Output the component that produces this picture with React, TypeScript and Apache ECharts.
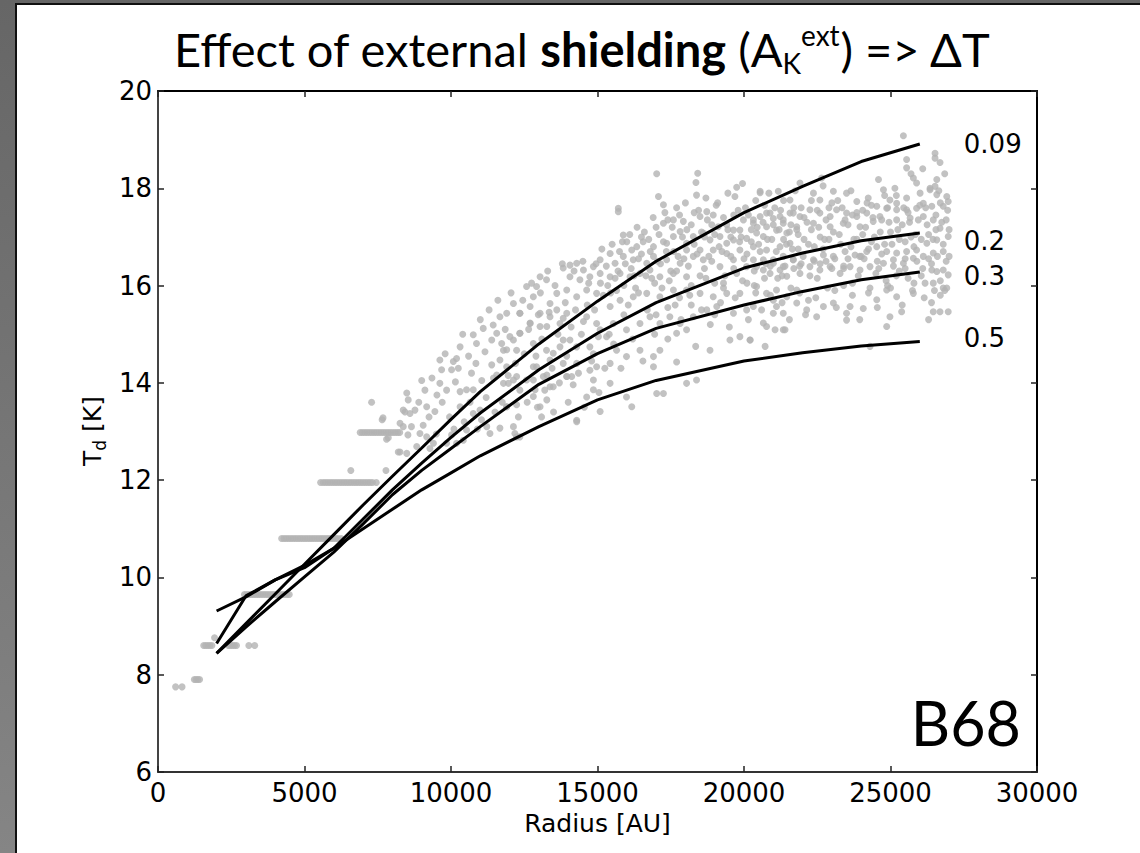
import React, { useEffect, useRef } from "react";
import * as echarts from "echarts";

// Model curves (radius nodes in AU, dust temperature in K)
const radiusNodes = [2000, 3000, 4000, 5000, 6000, 7000, 8000, 9000, 10000, 11000, 13000, 15000, 17000, 20000, 22000, 24000, 26000];
const td009 = [8.44, 9.05, 9.66, 10.27, 10.88, 11.49, 12.08, 12.66, 13.25, 13.82, 14.8, 15.68, 16.5, 17.5, 18.04, 18.55, 18.91];
const td02 = [8.64, 9.62, 9.95, 10.2, 10.6, 11.2, 11.8, 12.35, 12.88, 13.38, 14.27, 15.02, 15.65, 16.36, 16.67, 16.92, 17.08];
const td03 = [8.44, 8.98, 9.5, 10.01, 10.52, 11.1, 11.7, 12.2, 12.65, 13.1, 13.97, 14.6, 15.12, 15.6, 15.88, 16.12, 16.28];
const td05 = [9.31, 9.6, 9.95, 10.25, 10.6, 11.0, 11.4, 11.8, 12.15, 12.5, 13.1, 13.65, 14.05, 14.45, 14.62, 14.76, 14.85];
const curveNames = ["0.09", "0.2", "0.3", "0.5"];
const curveLabelShift = [0, 8, 4, -4];

// Observed pixels: quantised inner streaks
const streakPoints = [
  [600, 7.75], [820, 7.75],
  [1240, 7.9], [1300, 7.9], [1360, 7.9], [1420, 7.9],
  [1560, 8.6], [1630, 8.6], [1700, 8.6], [1770, 8.6], [1840, 8.6], [1930, 8.76], [2400, 8.6], [2470, 8.6], [2540, 8.6], [2610, 8.6], [2680, 8.6], [3100, 8.6], [3300, 8.6],
  [2950, 9.65], [3030, 9.65], [3110, 9.65], [3190, 9.65], [3270, 9.65], [3350, 9.65], [3430, 9.65], [3510, 9.65], [3590, 9.65], [3670, 9.65], [3750, 9.65],
  [3830, 9.65], [3910, 9.65], [3990, 9.65], [4070, 9.65], [4150, 9.65], [4230, 9.65], [4310, 9.65], [4400, 9.65], [4480, 9.65],
  [4220, 10.8], [4300, 10.8], [4380, 10.8], [4460, 10.8], [4540, 10.8], [4620, 10.8], [4700, 10.8], [4780, 10.8], [4860, 10.8], [4940, 10.8], [5020, 10.8],
  [5100, 10.8], [5180, 10.8], [5260, 10.8], [5340, 10.8], [5420, 10.8], [5500, 10.8], [5580, 10.8], [5660, 10.8], [5740, 10.8], [5820, 10.8], [5900, 10.8],
  [5980, 10.8], [6060, 10.8], [6140, 10.8], [6250, 10.8],
  [5550, 11.95], [5640, 11.95], [5720, 11.95], [5800, 11.95], [5880, 11.95], [5960, 11.95], [6040, 11.95], [6120, 11.95], [6200, 11.95], [6280, 11.95],
  [6360, 11.95], [6440, 11.95], [6520, 11.95], [6600, 11.95], [6680, 11.95], [6760, 11.95], [6840, 11.95], [6920, 11.95], [7000, 11.95], [7080, 11.95],
  [7160, 11.95], [7240, 11.95], [7320, 11.95], [7450, 11.95], [6580, 12.2], [7780, 12.2],
  [6900, 12.98], [6980, 12.98], [7060, 12.98], [7140, 12.98], [7220, 12.98], [7300, 12.98], [7380, 12.98], [7460, 12.98], [7540, 12.98], [7620, 12.98],
  [7700, 12.98], [7780, 12.98], [7860, 12.98], [7940, 12.98], [8020, 12.98], [8100, 12.98], [8180, 12.98], [8250, 12.98],
];

// Observed pixels: 7000 - 15000 AU
const cloudInner = [
  [7290, 13.6], [7650, 13.24], [7680, 13.28], [7800, 12.84], [7860, 12.87], [8200, 12.58], [8260, 12.58], [8530, 12.93], [8430, 13.4], [8490, 13.79],
  [8370, 13.44], [8540, 13.65], [8770, 13.44], [9050, 13.13], [9110, 13.85], [9520, 13.75], [9450, 13.41], [9680, 14.27], [9620, 14.47], [10080, 14.44],
  [10020, 14.27], [10310, 14.74], [9850, 13.85], [10150, 14.02], [10310, 13.82], [10530, 13.86], [10760, 13.86], [10700, 14.2], [10870, 14.81], [11100, 15.12],
  [11160, 14.64], [11390, 14.88], [11440, 15.19], [11670, 15.36], [11560, 15.02], [11730, 14.81], [11900, 14.68], [12130, 14.88], [12350, 15.02], [12350, 15.43],
  [12700, 15.23], [12980, 15.4], [13270, 15.16], [13610, 15.5], [13830, 15.33], [14520, 15.26], [14290, 14.74], [14120, 14.13], [14170, 13.96], [14860, 13.86],
  [14970, 14.33], [14290, 13.2], [12350, 12.89], [12180, 12.96], [11670, 13.07], [11330, 12.96], [11220, 13.1], [10990, 13.44], [11900, 13.51], [12240, 13.55],
  [12810, 13.72], [12870, 13.86], [13270, 14.16], [13380, 13.92], [12810, 14.06], [12920, 14.33], [12240, 14.13], [12130, 14.06], [11790, 13.99], [11560, 14.16],
  [11390, 14.37], [11900, 14.33], [10310, 13.51], [10760, 13.37], [11040, 13.24], [10190, 12.76], [10420, 12.82], [9850, 12.76], [9400, 12.76], [9170, 12.89],
  [8940, 12.96], [8830, 12.69], [9280, 12.65], [10020, 12.93], [10530, 13.03], [13090, 13.3], [13270, 13.65], [13950, 14.13], [13490, 14.61], [13830, 14.88],
  [14860, 14.06], [15030, 14.95], [14740, 14.74], [11670, 14.47], [10760, 14.99], [10190, 14.5], [9620, 13.99], [9170, 13.51], [8600, 13.37], [8260, 13.17],
  [8490, 12.55], [8370, 13.1],
];

// Observed pixels: 12000 - 22000 AU
const cloudMiddle = [
  [17020, 18.3], [18420, 18.31], [18360, 18.12], [18380, 17.86], [17080, 17.83], [17250, 17.66], [15710, 17.59], [15710, 17.52], [19750, 18.02], [19690, 17.83],
  [20550, 17.91], [15880, 17.04], [16560, 16.9], [16340, 16.8], [16170, 16.73], [16910, 16.8], [17250, 17.28], [17590, 17.35], [17930, 17.32], [18500, 17.42],
  [18730, 17.52], [18950, 17.45], [19120, 17.21], [19410, 17.25], [19640, 17.14], [19980, 17.35], [20320, 17.28], [20770, 17.49], [21000, 17.38], [21340, 17.35],
  [21680, 17.49], [21800, 17.21], [21460, 17.08], [21110, 17.14], [20660, 17.01], [20430, 17.08], [20090, 16.97], [19860, 17.14], [19640, 16.94], [19410, 16.87],
  [19180, 17.01], [18840, 16.94], [18610, 17.08], [18270, 17.01], [18040, 16.87], [17820, 17.11], [17590, 17.01], [17360, 16.87], [18040, 16.73], [18500, 16.73],
  [18950, 16.73], [19410, 16.66], [19860, 16.73], [20320, 16.8], [20770, 16.73], [21230, 16.8], [21570, 16.87], [21680, 16.53], [21340, 16.39], [21000, 16.53],
  [20660, 16.32], [20320, 16.53], [20090, 16.39], [19640, 16.53], [19180, 16.39], [18610, 16.53], [18270, 16.6], [17820, 16.46], [17360, 16.53], [16910, 16.6],
  [16680, 16.46], [16220, 16.53], [15880, 16.6], [15600, 16.46], [15430, 16.66], [15090, 16.53], [14860, 16.39], [14520, 16.32], [14290, 16.46], [14060, 16.42],
  [13830, 16.36], [14060, 16.18], [14400, 16.12], [14740, 16.18], [15090, 16.25], [15430, 16.18], [15770, 16.25], [16110, 16.18], [16450, 16.25], [16790, 16.32],
  [17130, 16.18], [17590, 16.25], [18040, 16.18], [13040, 16.18], [13260, 16.12], [12920, 15.98], [12580, 15.98], [12130, 15.63], [11900, 15.43], [12350, 15.43],
  [12700, 15.57], [13040, 15.43], [12810, 15.77], [13380, 15.63], [13610, 15.84], [13950, 15.91], [14290, 15.77], [14630, 15.91], [14970, 15.84], [13380, 15.36],
  [13720, 15.22], [13950, 15.43], [13040, 15.16], [12700, 15.22], [12350, 15.02], [12010, 14.95], [11790, 14.67], [12240, 14.67], [12810, 14.81], [13260, 14.67],
  [13720, 14.74], [12810, 14.33], [13150, 14.13], [13380, 14.47], [14060, 14.88], [14630, 15.36], [15090, 15.09], [15540, 15.22], [15990, 15.09], [14970, 15.22],
  [15310, 14.95], [15650, 14.67], [15990, 14.54], [16450, 14.67], [16910, 14.54], [17130, 14.67], [16450, 15.22], [16790, 15.36], [17130, 15.22], [17470, 15.36],
  [17820, 15.22], [17700, 15.02], [18040, 15.09], [18270, 15.36], [18730, 15.5], [19070, 15.57], [19640, 15.43], [20090, 15.5], [19860, 15.84], [19410, 15.84],
  [18950, 15.77], [18500, 15.84], [18040, 15.91], [17590, 15.91], [17130, 15.77], [16680, 15.84], [16220, 15.77], [15770, 15.7], [15430, 15.57], [20430, 15.98],
  [20770, 15.84], [21110, 15.91], [21460, 15.77], [21800, 15.91], [21000, 15.43], [21340, 15.09], [20770, 15.16], [19520, 14.88], [19860, 14.95], [20210, 14.88],
  [18840, 14.67], [17700, 14.43], [18040, 13.99], [18380, 14.06], [16910, 14.33], [17020, 13.78], [17250, 13.78], [16170, 13.51], [15990, 13.71], [15090, 13.41],
  [14290, 13.23], [12240, 12.89], [12130, 13.1], [11900, 13.51], [12350, 13.85], [13040, 13.51], [13490, 13.92], [13950, 14.13], [14630, 13.71], [14740, 14.26],
  [15430, 13.99], [15430, 14.4], [14860, 14.6], [14290, 14.4], [13830, 14.4], [12580, 14.06], [11960, 13.99],
];

// Observed pixels: 20000 - 27000 AU
const cloudOuter = [
  [25440, 19.08], [26520, 18.72], [26520, 18.62], [26690, 18.53], [25550, 18.59], [25550, 18.42], [25780, 18.21], [25890, 18.11], [26580, 18.18], [26520, 18.04],
  [24590, 18.18], [24760, 17.97], [20550, 17.94], [21170, 17.94], [21570, 17.76], [21910, 18.11], [22370, 17.9], [22650, 18.21], [22590, 17.76], [23050, 17.94],
  [23500, 17.9], [23850, 17.73], [24240, 17.8], [24980, 17.76], [25210, 17.69], [25550, 17.8], [26010, 17.9], [26350, 17.97], [26580, 17.87], [26920, 17.83],
  [26970, 17.73], [26800, 17.63], [26410, 17.63], [26120, 17.69], [25890, 17.59], [25550, 17.56], [25210, 17.56], [24870, 17.59], [24530, 17.63], [24640, 17.42],
  [24190, 17.49], [23850, 17.42], [23500, 17.49], [23160, 17.56], [22940, 17.42], [22590, 17.49], [22250, 17.56], [21910, 17.42], [21570, 17.49], [21230, 17.42],
  [20890, 17.49], [20550, 17.42], [20320, 17.35], [20770, 17.21], [21340, 17.28], [21800, 17.15], [22370, 17.28], [22940, 17.21], [23390, 17.28], [23960, 17.21],
  [24410, 17.32], [25210, 17.35], [25670, 17.39], [26120, 17.42], [26460, 17.35], [26690, 17.18], [26970, 17.01], [26580, 16.94], [26240, 16.87], [25890, 16.73],
  [25550, 16.7], [25210, 16.67], [24870, 16.7], [24530, 16.8], [24190, 16.7], [23790, 16.63], [23450, 16.7], [23050, 16.6], [22710, 16.63], [22370, 16.53],
  [22020, 16.6], [21680, 16.53], [21340, 16.6], [21000, 16.46], [20660, 16.53], [20430, 16.39], [20890, 16.25], [21230, 16.32], [21460, 16.19], [21910, 16.25],
  [22250, 16.39], [22590, 16.32], [22940, 16.39], [23280, 16.25], [23620, 16.39], [23960, 16.32], [24300, 16.39], [24760, 16.46], [25100, 16.53], [25440, 16.46],
  [25780, 16.56], [26120, 16.6], [26460, 16.67], [26410, 16.32], [26580, 16.29], [26800, 16.32], [26970, 16.22], [26180, 16.05], [26460, 16.05], [26800, 15.95],
  [26920, 15.95], [25780, 15.84], [25210, 15.77], [24870, 15.91], [24530, 15.71], [24070, 15.53], [23620, 15.57], [23500, 15.43], [23500, 15.29], [23050, 15.64],
  [22710, 15.57], [22480, 15.36], [22140, 15.5], [21800, 15.64], [21340, 15.43], [21110, 15.57], [21400, 15.09], [21060, 15.09], [20720, 14.75], [20660, 15.23],
  [20320, 15.57], [24980, 15.36], [25380, 15.46], [24870, 15.16], [26460, 15.46], [26690, 15.46], [26970, 15.46], [24300, 14.75], [20205, 14.88],
];

// Observed pixels: additional fill of the dense cloud
const cloudFill = [
  [8650, 13.1], [8900, 13.6], [9000, 14.05], [9250, 13.3], [9350, 14.1], [9500, 12.95], [9700, 13.6], [9800, 14.6], [9950, 13.3], [10100, 13.05],
  [10250, 14.3], [10400, 15.0], [10450, 13.2], [10600, 14.55], [10650, 13.6], [10850, 14.4], [10900, 13.05], [11000, 15.3], [11050, 14.05], [11200, 13.7],
  [11300, 15.5], [11450, 14.1], [11500, 13.4], [11600, 15.7], [11750, 13.6], [11850, 15.1], [11950, 14.15],
  [12050, 15.85], [12200, 14.4], [12300, 13.3], [12450, 15.7], [12500, 14.6], [12600, 13.6], [12650, 15.1], [12750, 16.05], [12900, 14.55], [12950, 13.5],
  [13050, 15.85], [13100, 14.9], [13200, 13.85], [13300, 16.3], [13350, 15.45], [13450, 14.3], [13500, 13.4], [13550, 16.0], [13650, 15.0], [13700, 14.0],
  [13800, 16.45], [13900, 15.65], [13950, 14.55], [14000, 13.6], [14100, 15.15], [14200, 16.3], [14250, 15.5], [14350, 14.2], [14450, 15.0], [14500, 16.5],
  [14550, 13.5], [14650, 15.6], [14700, 16.05], [14800, 14.45], [14900, 15.5], [14950, 16.45], [15050, 13.8], [15150, 16.75], [15200, 15.8], [15250, 14.3],
  [15350, 16.0], [15400, 15.0], [15500, 16.85], [15550, 14.8], [15650, 15.9], [15700, 16.3], [15800, 14.3], [15850, 16.9], [15900, 15.4], [15950, 16.45],
  [16050, 15.6], [16100, 17.05], [16200, 14.9], [16250, 16.2], [16350, 17.2], [16400, 15.85], [16500, 16.65], [16550, 14.45], [16600, 17.1], [16700, 15.5],
  [16750, 16.95], [16850, 16.15], [16900, 17.4], [16950, 15.0], [17050, 16.5], [17100, 17.05], [17200, 15.95], [17300, 17.5], [17350, 16.7], [17400, 14.9],
  [17500, 16.3], [17550, 17.2], [17650, 15.6], [17700, 17.6], [17750, 16.6], [17850, 15.3], [17900, 17.0], [18000, 17.7], [18100, 16.4], [18150, 15.8],
  [18200, 17.25], [18300, 16.85], [18350, 14.75], [18450, 17.55], [18500, 16.2], [18550, 15.5], [18650, 17.0], [18700, 17.8], [18800, 16.6], [18850, 15.2],
  [18900, 17.25], [19000, 16.05], [19050, 17.65], [19150, 16.8], [19200, 15.65], [19300, 17.4], [19350, 16.2], [19450, 17.9], [19500, 15.15], [19550, 17.0],
  [19650, 16.35], [19700, 15.75], [19800, 17.55], [19850, 16.9], [19950, 16.1], [19950, 18.1],
  [20050, 17.6], [20100, 16.65], [20150, 15.3], [20250, 17.15], [20350, 16.0], [20400, 17.75], [20500, 16.85], [20600, 15.5], [20650, 17.3], [20750, 16.45],
  [20850, 17.9], [20900, 15.8], [20950, 16.95], [21050, 17.6], [21150, 16.15], [21200, 17.15], [21300, 15.65], [21350, 17.75], [21450, 16.85], [21550, 15.3],
  [21600, 17.25], [21700, 16.35], [21750, 17.95], [21850, 16.75], [21900, 15.85], [21950, 17.6], [22050, 16.95], [22100, 15.4], [22150, 17.3], [22250, 16.2],
  [22300, 17.75], [22400, 16.8], [22450, 15.75], [22550, 17.2], [22600, 16.45], [22700, 18.05], [22750, 16.95], [22850, 15.95], [22900, 17.6], [23000, 16.35],
  [23050, 17.1], [23150, 15.55], [23200, 17.75], [23300, 16.85], [23400, 16.0], [23450, 17.35], [23550, 16.55], [23650, 17.95], [23700, 15.8], [23750, 16.95],
  [23850, 17.5], [23900, 16.2], [23950, 15.3],
  [24050, 17.05], [24100, 16.55], [24200, 17.7], [24250, 15.85], [24350, 16.9], [24400, 17.4], [24500, 16.25], [24550, 15.55], [24650, 17.1], [24700, 16.65],
  [24800, 17.85], [24850, 16.1], [24950, 17.3], [25000, 15.95], [25050, 16.85], [25150, 18.0], [25250, 17.15], [25300, 16.3], [25400, 15.6], [25450, 17.6],
  [25500, 16.9], [25600, 16.15], [25650, 17.3], [25700, 18.3], [25750, 15.9], [25850, 17.05], [25900, 16.5], [26000, 17.65], [26050, 16.2], [26100, 18.4],
  [26150, 15.75], [26250, 17.25], [26300, 16.55], [26350, 18.0], [26450, 16.95], [26500, 15.9], [26550, 17.45], [26600, 16.6], [26650, 17.95], [26700, 16.1],
  [26750, 17.3], [26800, 16.85], [26850, 18.3], [26900, 16.5], [26950, 17.55], [27000, 17.15], [26850, 15.9], [26300, 15.3],
];

// Observed pixels: densest band between the 0.09 and 0.3 model curves
const cloudBand = [
  [15100, 16.05], [15300, 16.4], [15450, 15.85], [15600, 16.15], [15750, 16.7], [15900, 16.0], [16000, 16.9], [16150, 16.35], [16300, 15.95], [16400, 16.55],
  [16500, 17.0], [16650, 16.2], [16800, 16.7], [16950, 16.05], [17000, 17.2], [17150, 16.45], [17250, 16.9], [17400, 17.35], [17450, 16.1], [17600, 16.7],
  [17700, 16.3], [17800, 17.45], [17950, 16.55], [18050, 17.15], [18200, 16.0], [18300, 17.5], [18400, 16.65], [18550, 17.1], [18650, 16.35], [18750, 17.35],
  [18900, 16.5], [19000, 17.05], [19100, 17.7], [19250, 16.7], [19300, 16.05], [19450, 17.15], [19550, 16.6], [19650, 17.45], [19750, 16.25], [19900, 17.0],
  [20000, 16.55], [20150, 17.45], [20250, 16.9], [20350, 16.3], [20450, 17.2], [20550, 16.7], [20700, 17.65], [20800, 16.95], [20900, 16.4], [21000, 17.25],
  [21100, 16.7], [21250, 17.55], [21350, 16.95], [21400, 16.4], [21550, 17.1], [21650, 16.75], [21700, 17.6], [21850, 17.05], [21950, 16.45], [22050, 17.4],
  [22200, 16.85], [22300, 17.15], [22400, 16.5], [22500, 17.55], [22600, 17.0], [22700, 16.75], [22800, 17.35], [22900, 16.95], [23000, 17.7], [23100, 16.55],
  [23250, 17.05], [23350, 17.6], [23400, 16.4], [23550, 17.25], [23650, 16.8], [23700, 17.45], [23850, 16.95], [23950, 16.6], [24050, 17.55], [24150, 17.2],
  [24250, 16.75], [24350, 17.65], [24450, 17.0], [24550, 16.5], [24700, 17.35], [24800, 16.85], [24900, 17.6], [25000, 17.1], [25100, 16.4], [25200, 17.85],
  [25300, 16.95], [25400, 17.25], [25500, 16.55], [25600, 17.5], [25700, 17.0], [25800, 16.8], [25950, 17.35], [26050, 16.95], [26200, 17.6], [26300, 17.05],
  [26400, 16.45], [26550, 17.15], [26700, 17.7], [26800, 16.7], [26900, 17.35], [27000, 16.6],
  [20100, 16.05], [20400, 15.85], [20700, 16.15], [21000, 15.7], [21300, 16.2], [21600, 15.95], [21900, 16.4], [22200, 15.7], [22500, 16.15], [22800, 16.5],
  [23100, 15.9], [23400, 16.35], [23700, 16.05], [24000, 16.6], [24300, 15.95], [24600, 16.35], [24900, 16.0], [25200, 16.2], [25500, 16.35], [25800, 16.05],
  [26100, 16.35], [26400, 15.65], [26700, 15.8], [19000, 15.4], [19300, 15.95], [18700, 16.15], [18200, 15.6], [17800, 15.75], [17400, 15.55], [17000, 15.4],
];

const FONT = "DejaVu Sans";

export default function App() {
  const ref = useRef<HTMLDivElement>(null);

  useEffect(() => {
    document.body.style.margin = "0";
    const chart = echarts.init(ref.current!, null, { renderer: "svg" });
    const curves = [td009, td02, td03, td05];
    const scatterData = [...streakPoints, ...cloudInner, ...cloudMiddle, ...cloudOuter, ...cloudFill, ...cloudBand];

    const tickCommon = {
      show: true,
      inside: true,
      length: 6,
      lineStyle: { color: "#222", width: 1.5 },
    };

    chart.setOption({
      animation: false,
      backgroundColor: "transparent",
      grid: { left: 158, right: 103, top: 91, bottom: 81, containLabel: false },
      xAxis: [
        {
          type: "value",
          min: 0,
          max: 30000,
          interval: 5000,
          position: "bottom",
          axisLine: { show: true, onZero: false, lineStyle: { color: "#333", width: 2 } },
          axisTick: tickCommon,
          axisLabel: { fontSize: 26, fontFamily: FONT, color: "#000", margin: 8, formatter: (v: number) => String(v) },
          splitLine: { show: false },
          name: "Radius [AU]",
          nameLocation: "middle",
          nameGap: 38,
          nameTextStyle: { fontSize: 25, fontFamily: FONT, color: "#000" },
        },
        {
          type: "value",
          min: 0,
          max: 30000,
          interval: 5000,
          position: "top",
          axisLine: { show: true, onZero: false, lineStyle: { color: "#000", width: 2 } },
          axisTick: tickCommon,
          axisLabel: { show: false },
          splitLine: { show: false },
        },
      ],
      yAxis: [
        {
          type: "value",
          min: 6,
          max: 20,
          interval: 2,
          position: "left",
          axisLine: { show: true, onZero: false, lineStyle: { color: "#444", width: 2 } },
          axisTick: tickCommon,
          axisLabel: { fontSize: 26, fontFamily: FONT, color: "#000", margin: 6, formatter: (v: number) => String(v) },
          splitLine: { show: false },
        },
        {
          type: "value",
          min: 6,
          max: 20,
          interval: 2,
          position: "right",
          axisLine: { show: true, onZero: false, lineStyle: { color: "#000", width: 2 } },
          axisTick: tickCommon,
          axisLabel: { show: false },
          splitLine: { show: false },
        },
      ],
      graphic: [
        {
          type: "text",
          x: 582,
          y: 49,
          silent: true,
          style: {
            text: "{n|Effect of external }{b|shielding}{n| (A}{sub|K}{sup|ext}{n|) => ΔT}",
            align: "center",
            verticalAlign: "middle",
            rich: {
              n: { fontSize: 47, fontFamily: "Lato", color: "#000", lineHeight: 56, verticalAlign: "middle" },
              b: { fontSize: 47, fontFamily: "Lato", fontWeight: "bold", color: "#000", lineHeight: 56, verticalAlign: "middle" },
              sub: { fontSize: 28, fontFamily: "Lato", color: "#000", lineHeight: 28, verticalAlign: "bottom" },
              sup: { fontSize: 28, fontFamily: "Lato", color: "#000", lineHeight: 28, verticalAlign: "top" },
            },
          },
        },
        {
          type: "text",
          x: 92,
          y: 431,
          rotation: Math.PI / 2,
          silent: true,
          style: {
            text: "{t|T}{s|d}{t| [K]}",
            align: "center",
            verticalAlign: "middle",
            rich: {
              t: { fontSize: 25, fontFamily: FONT, color: "#000", lineHeight: 32, verticalAlign: "middle" },
              s: { fontSize: 17, fontFamily: FONT, color: "#000", lineHeight: 17, verticalAlign: "bottom" },
            },
          },
        },
        {
          type: "text",
          x: 1021,
          y: 722,
          silent: true,
          style: {
            text: "B68",
            align: "right",
            verticalAlign: "middle",
            fontSize: 61,
            fontFamily: "Lato",
            fill: "#000",
          },
        },
      ],
      series: [
        {
          type: "scatter",
          xAxisIndex: 0,
          yAxisIndex: 0,
          data: scatterData,
          symbol: "circle",
          symbolSize: 7,
          itemStyle: { color: "#b3b3b3" },
          silent: true,
          z: 1,
        },
        ...curves.map((c, i) => ({
          type: "line",
          name: curveNames[i],
          xAxisIndex: 0,
          yAxisIndex: 0,
          data: radiusNodes.map((r, k) => [r, c[k]]),
          showSymbol: false,
          symbol: "none",
          lineStyle: { color: "#000", width: 3 },
          silent: true,
          z: 3,
          endLabel: {
            show: true,
            formatter: curveNames[i],
            fontSize: 26,
            fontFamily: FONT,
            color: "#000",
            distance: 44,
            offset: [0, curveLabelShift[i]],
          },
        })),
      ],
    });
    return () => chart.dispose();
  }, []);

  return (
    <div
      style={{
        position: "relative",
        width: 1140,
        height: 853,
        background: "linear-gradient(180deg, #666666 0%, #858585 100%)",
        overflow: "hidden",
      }}
    >
      <div
        style={{
          position: "absolute",
          left: 15,
          top: 3,
          right: 0,
          bottom: 0,
          background: "#ffffff",
          borderLeft: "2px solid #111",
          borderTop: "2px solid #111",
        }}
      />
      <div ref={ref} style={{ position: "absolute", left: 0, top: 0, width: 1140, height: 853 }} />
    </div>
  );
}
